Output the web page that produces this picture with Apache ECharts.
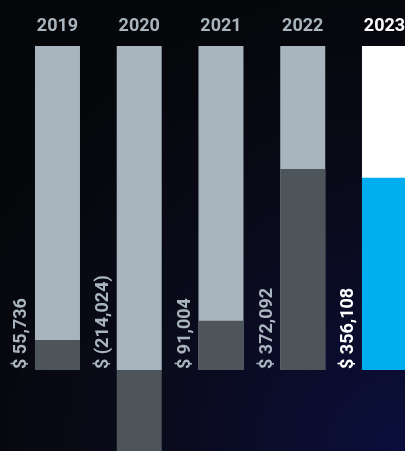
<!DOCTYPE html>
<html>
<head>
<meta charset="utf-8">
<script src="https://cdn.jsdelivr.net/npm/echarts@6/dist/echarts.min.js"></script>
<style>
  html, body { margin: 0; padding: 0; overflow: hidden; width: 405px; height: 451px; }
  body { background: radial-gradient(circle at 100% 100%, #0b0e3c 0%, #0a0b1c 40%, #06070b 75%, #050608 100%); }
  /* the chart is larger than the window: the plot is cropped on the right and bottom */
  #chart { width: 430px; height: 540px; }
</style>
</head>
<body>
<div id="chart"></div>
<script>
// data
var years = ['2019', '2020', '2021', '2022', '2023'];
var netValues = [55736, -214024, 91004, 372092, 356108];
var valueLabels = ['$ 55,736', '$ (214,024)', '$ 91,004', '$ 372,092', '$ 356,108'];
var scaleMax = 600000;

var grey = '#a9b5be';
var darkGrey = '#4d555b';
var blue = '#00aeef';

var last = years.length - 1;

var chart = echarts.init(document.getElementById('chart'));

var option = {
    backgroundColor: 'transparent',
    animation: false,
    grid: { left: 16.6, top: 46, width: 408.75, height: 486 },
    xAxis: {
        type: 'category',
        position: 'top',
        data: years.map(function (y, i) {
            return { value: y, textStyle: { color: i === last ? '#ffffff' : grey } };
        }),
        axisLine: { show: false },
        axisTick: { show: false },
        axisLabel: {
            fontFamily: 'Roboto',
            fontWeight: 'bold',
            fontSize: 18,
            margin: 11
        }
    },
    yAxis: {
        type: 'value',
        min: -300000,
        max: scaleMax,
        show: false,
        splitLine: { show: false }
    },
    series: [
        {
            // full-height track behind each bar
            type: 'bar',
            barWidth: 45,
            barGap: '-100%',
            silent: true,
            data: years.map(function (y, i) {
                return {
                    value: scaleMax,
                    itemStyle: { color: i === last ? '#ffffff' : grey },
                    label: {
                        formatter: valueLabels[i],
                        color: i === last ? '#ffffff' : grey
                    }
                };
            }),
            label: {
                show: true,
                position: 'insideBottomLeft',
                distance: 0,
                rotate: 90,
                align: 'left',
                verticalAlign: 'middle',
                offset: [1, -13],
                fontFamily: 'Roboto',
                fontWeight: 'bold',
                fontSize: 18
            }
        },
        {
            type: 'bar',
            barWidth: 45,
            barGap: '-100%',
            data: netValues.map(function (v, i) {
                return { value: v, itemStyle: { color: i === last ? blue : darkGrey } };
            })
        }
    ]
};

chart.setOption(option);
</script>
</body>
</html>
